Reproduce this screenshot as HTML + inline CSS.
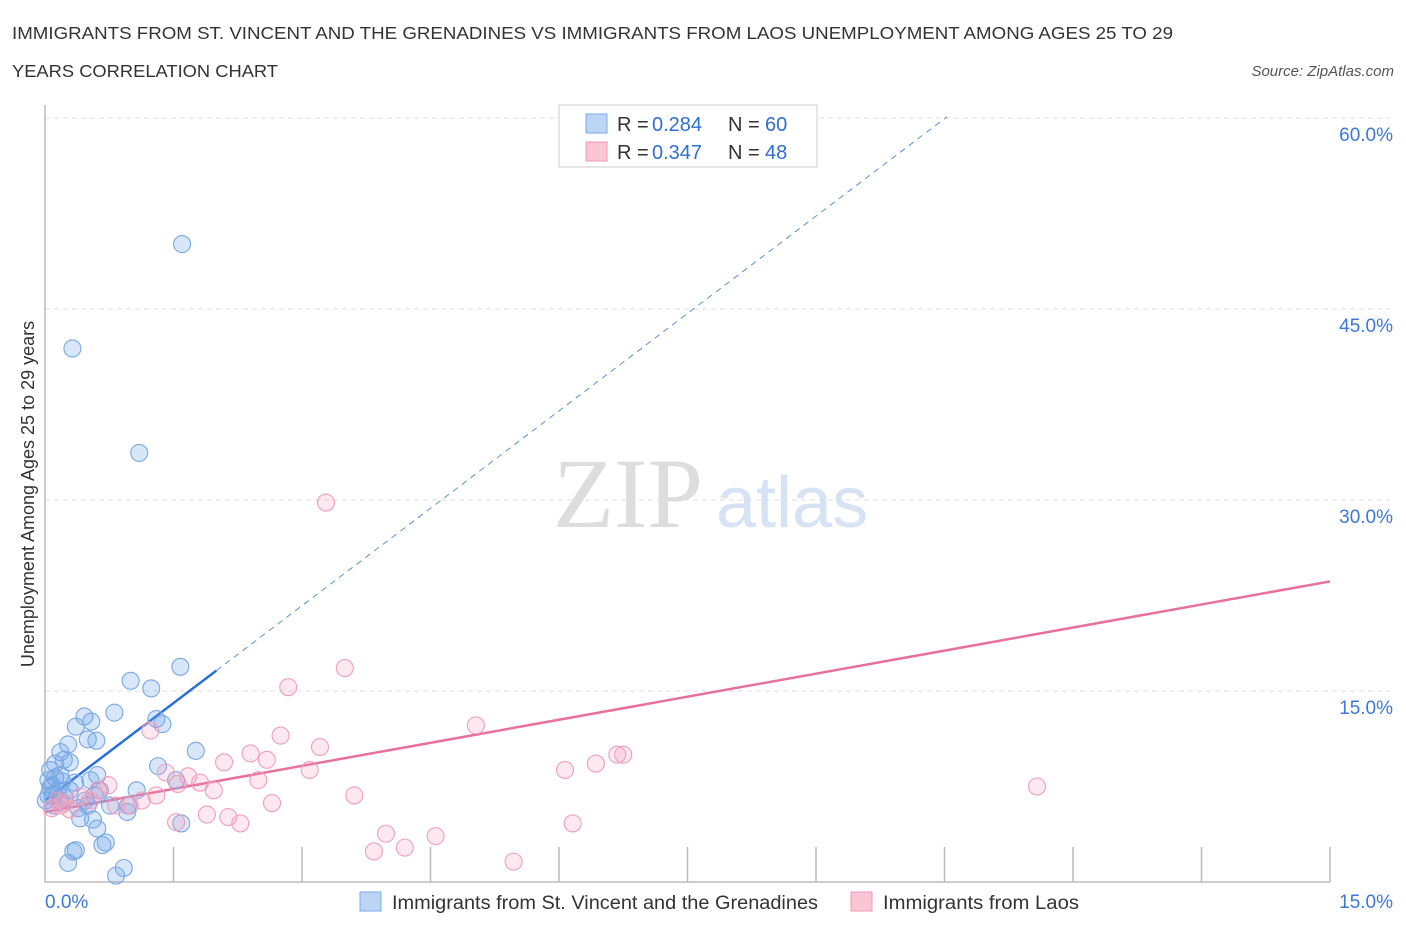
<!DOCTYPE html>
<html><head><meta charset="utf-8"><style>
body{margin:0;background:#fff;font-family:"Liberation Sans",sans-serif;}
svg text{font-family:"Liberation Sans",sans-serif;}
</style></head><body>
<svg id="chart" width="1406" height="930" xmlns="http://www.w3.org/2000/svg">
<text x="12" y="39" font-size="17.5" fill="#333" textLength="1161" lengthAdjust="spacingAndGlyphs">IMMIGRANTS FROM ST. VINCENT AND THE GRENADINES VS IMMIGRANTS FROM LAOS UNEMPLOYMENT AMONG AGES 25 TO 29</text>
<text x="12" y="77" font-size="17.5" fill="#333" textLength="266" lengthAdjust="spacingAndGlyphs">YEARS CORRELATION CHART</text>
<text x="1394" y="76" font-size="15" fill="#555" text-anchor="end" font-style="italic">Source: ZipAtlas.com</text>
<text x="553" y="527" font-size="100" fill="#ddd" style="font-family:'Liberation Serif',serif">ZIP</text>
<text x="716" y="527" font-size="72" fill="#d5e3f5">atlas</text>
<text transform="translate(34,494) rotate(-90)" font-size="18" fill="#333" text-anchor="middle">Unemployment Among Ages 25 to 29 years</text>
<g id="grid"></g><g id="axes"></g><g id="trends"></g><g id="pts"></g>
<g>
<rect x="559" y="105" width="258" height="62" fill="#fff" stroke="#ccc"/>
<rect x="586" y="114" width="21" height="19" fill="#bcd5f5" stroke="#7aaae6"/>
<rect x="586" y="142" width="21" height="19" fill="#fac5d5" stroke="#ee9ab5"/>
<text x="617" y="131" font-size="20" fill="#333">R = </text><text x="652" y="131" font-size="20" fill="#2f6fd0">0.284</text>
<text x="728" y="131" font-size="20" fill="#333">N = </text><text x="765" y="131" font-size="20" fill="#2f6fd0">60</text>
<text x="617" y="159" font-size="20" fill="#333">R = </text><text x="652" y="159" font-size="20" fill="#2f6fd0">0.347</text>
<text x="728" y="159" font-size="20" fill="#333">N = </text><text x="765" y="159" font-size="20" fill="#2f6fd0">48</text>
</g>
<g>
<rect x="360" y="892" width="21" height="19" fill="#bcd5f5" stroke="#7aaae6"/>
<text x="392" y="909" font-size="19" fill="#333" textLength="426" lengthAdjust="spacingAndGlyphs">Immigrants from St. Vincent and the Grenadines</text>
<rect x="851" y="892" width="21" height="19" fill="#fac5d5" stroke="#ee9ab5"/>
<text x="883" y="909" font-size="19" fill="#333" textLength="196" lengthAdjust="spacingAndGlyphs">Immigrants from Laos</text>
</g>
</svg>
<script>
const yTicks=[15,30,45,60];
const yTickLabels=["15.0%","30.0%","45.0%","60.0%"];
const xTicks=[1.5,3,4.5,6,7.5,9,10.5,12,13.5,15];
const blueX=[1.60,0.32,1.10,1.58,1.00,1.24,0.81,0.46,1.30,1.37,0.54,0.36,0.50,0.60,0.27,0.18,0.22,0.29,0.12,0.06,1.76,1.32,0.61,0.12,0.20,0.35,0.06,0.09,0.18,1.07,0.58,0.47,1.53,0.50,0.97,0.96,0.41,0.56,0.61,0.67,0.71,0.36,0.33,0.27,0.92,0.83,1.59,0.04,0.08,0.15,0.01,0.23,0.29,0.64,0.76,0.11,0.53,0.18,0.39,0.04];
const blueY=[50.1,41.9,33.7,16.9,15.8,15.2,13.3,13.0,12.8,12.4,12.6,12.2,11.2,11.1,10.8,10.2,9.6,9.4,9.3,8.8,10.3,9.1,8.4,8.2,7.9,7.8,7.4,6.8,6.4,7.2,6.8,6.4,8.0,6.0,6.0,5.5,5.0,4.9,4.2,2.9,3.1,2.5,2.4,1.5,1.1,0.5,4.6,8.0,7.6,7.2,6.4,6.6,7.2,7.2,6.0,6.0,8.0,8.4,5.8,6.8];
const pinkX=[3.28,8.79,3.50,2.84,5.03,1.23,2.75,3.21,2.40,2.59,2.09,6.68,6.75,6.43,6.07,3.09,1.67,1.55,1.81,2.49,1.41,11.58,0.74,0.62,1.97,3.61,2.65,1.30,1.13,0.83,0.99,0.18,0.08,0.29,0.15,1.89,2.14,2.28,1.53,6.16,3.98,4.56,4.20,3.84,5.47,0.53,0.23,0.41];
const pinkY=[29.8,57.6,16.8,15.3,12.3,11.9,11.5,10.6,10.1,9.6,9.4,10.0,10.0,9.3,8.8,8.8,8.3,7.7,7.8,8.0,8.6,7.5,7.6,7.2,7.2,6.8,6.2,6.8,6.4,6.0,6.0,6.0,5.8,5.7,6.4,5.3,5.1,4.6,4.7,4.6,3.8,3.6,2.7,2.4,1.6,6.4,6.2,6.7];
const blueTrend=[6.4,5.1];  // intercept, slope
const pinkTrend=[5.5,1.207];
const NS="http://www.w3.org/2000/svg";
const X=v=>45+v/15*1285;
const Y=v=>882-v*12.733;
function mk(tag,attrs,parent){const e=document.createElementNS(NS,tag);for(const k in attrs)e.setAttribute(k,attrs[k]);document.getElementById(parent).appendChild(e);return e;}
yTicks.forEach((t,i)=>{
  const l=mk('line',{x1:45,x2:1390,y1:Y(t),y2:Y(t),stroke:'#ddd','stroke-dasharray':'5,4'},'grid');
  
  
  const tx=mk('text',{x:1393,y:Y(t)+23,'font-size':19,fill:'#3b78d8','text-anchor':'end'},'grid');
  tx.textContent=yTickLabels[i];
  
  
});
const ya=mk('line',{x1:45,x2:45,y1:105,y2:882,stroke:'#bbb','stroke-width':1.5},'axes');


const xa=mk('line',{x1:45,x2:1330,y1:882,y2:882,stroke:'#bbb','stroke-width':1.5},'axes');


xTicks.forEach(t=>{
  const l=mk('line',{x1:X(t),x2:X(t),y1:847,y2:882,stroke:'#bbb','stroke-width':1.5},'axes');
  
  
});
const x0=mk('text',{x:45,y:908,'font-size':19,fill:'#3b78d8'},'axes');x0.textContent='0.0%';


const x1=mk('text',{x:1393,y:908,'font-size':19,fill:'#3b78d8','text-anchor':'end'},'axes');x1.textContent='15.0%';


function draw(xs,ys,fill,stroke,name){xs.forEach((x,i)=>{
  const c=mk('circle',{cx:X(x),cy:Y(ys[i]),r:8.5,fill:fill,stroke:stroke,'stroke-width':1.1},'pts');
  
  
});}
draw(blueX,blueY,'rgba(110,165,235,0.28)','#7aa8e4','point-st-vincent');
draw(pinkX,pinkY,'rgba(245,150,180,0.22)','#efa0ba','point-laos');
const bEnd=(60.1-blueTrend[0])/blueTrend[1];
const bd=mk('line',{x1:X(2.0),y1:Y(blueTrend[0]+blueTrend[1]*2.0),x2:X(bEnd),y2:Y(blueTrend[0]+blueTrend[1]*bEnd),stroke:'#5b8fd8','stroke-width':1,'stroke-dasharray':'6,5'},'trends');


const bs=mk('line',{x1:X(0),y1:Y(blueTrend[0]),x2:X(2.0),y2:Y(blueTrend[0]+blueTrend[1]*2.0),stroke:'#2a6fd6','stroke-width':2.5},'trends');


const ps=mk('line',{x1:X(0),y1:Y(pinkTrend[0]),x2:X(15),y2:Y(pinkTrend[0]+pinkTrend[1]*15),stroke:'#e8709a','stroke-width':2.5},'trends');


</script>
</body></html>
